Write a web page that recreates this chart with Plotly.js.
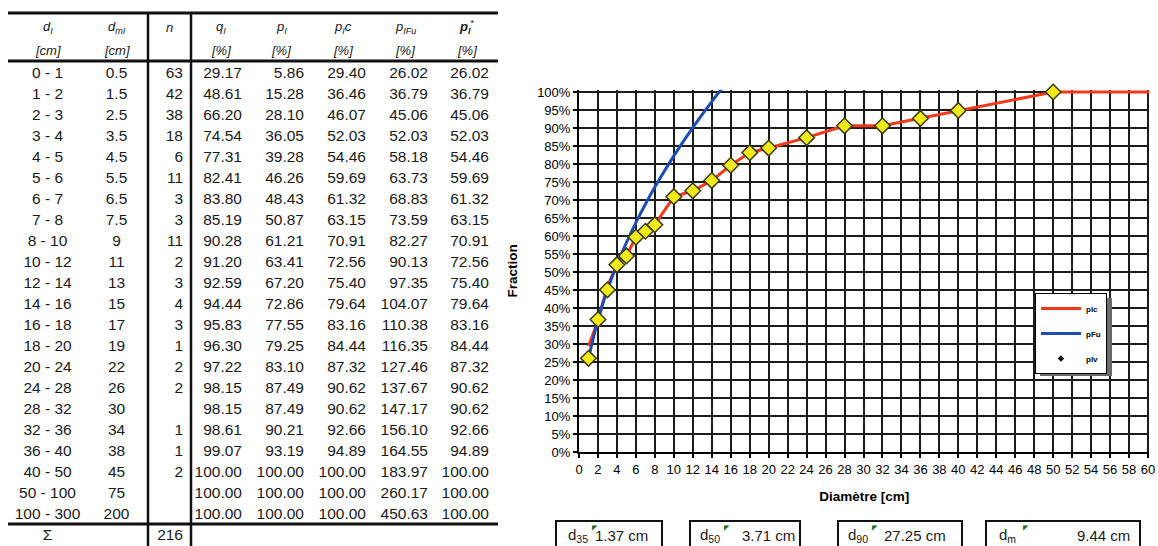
<!DOCTYPE html>
<html><head><meta charset="utf-8">
<script src="https://cdn.plot.ly/plotly-3.0.1.min.js"></script>
<style>html,body{margin:0;padding:0;background:#fff}#chart{width:1158px;height:546px}</style>
</head><body><div id="chart"></div>
<script>
// ---------------- data ----------------
const classes = ['0 - 1','1 - 2','2 - 3','3 - 4','4 - 5','5 - 6','6 - 7','7 - 8','8 - 10','10 - 12','12 - 14','14 - 16','16 - 18','18 - 20','20 - 24','24 - 28','28 - 32','32 - 36','36 - 40','40 - 50','50 - 100','100 - 300'];
const dMid = [0.5,1.5,2.5,3.5,4.5,5.5,6.5,7.5,9,11,13,15,17,19,22,26,30,34,38,45,75,200];
const counts = [63,42,38,18,6,11,3,3,11,2,3,4,3,1,2,2,null,1,1,2,null,null];
const qI = [29.17,48.61,66.20,74.54,77.31,82.41,83.80,85.19,90.28,91.20,92.59,94.44,95.83,96.30,97.22,98.15,98.15,98.61,99.07,100,100,100];
const pI = [5.86,15.28,28.10,36.05,39.28,46.26,48.43,50.87,61.21,63.41,67.20,72.86,77.55,79.25,83.10,87.49,87.49,90.21,93.19,100,100,100];
const pIc = [29.40,36.46,46.07,52.03,54.46,59.69,61.32,63.15,70.91,72.56,75.40,79.64,83.16,84.44,87.32,90.62,90.62,92.66,94.89,100,100,100];
const pIFu = [26.02,36.79,45.06,52.03,58.18,63.73,68.83,73.59,82.27,90.13,97.35,104.07,110.38,116.35,127.46,137.67,147.17,156.10,164.55,183.97,260.17,450.63];
const pIv = [26.02,36.79,45.06,52.03,54.46,59.69,61.32,63.15,70.91,72.56,75.40,79.64,83.16,84.44,87.32,90.62,90.62,92.66,94.89,100,100,100];
const headerSymbols = ['<i>d</i><sub><i>I</i></sub>','<i>d</i><sub><i>mI</i></sub>','<i>n</i>','<i>q</i><sub><i>I</i></sub>','<i>p</i><sub><i>I</i></sub>','<i>p</i><sub><i>I</i></sub><i>c</i>','<i>p</i><sub><i>IFu</i></sub>','<b><i>p</i></b><sub><b><i>I</i></b></sub><sup>*</sup>'];
const headerUnits = ['<i>[cm]</i>','<i>[cm]</i>','','<i>[%]</i>','<i>[%]</i>','<i>[%]</i>','<i>[%]</i>','<i>[%]</i>'];
const sumLabel = 'Σ';
const seriesNames = ['plc','pFu','plv'];
const statLabels = ['d<sub>35</sub>','d<sub>50</sub>','d<sub>90</sub>','d<sub>m</sub>'];
const statValues = ['1.37 cm','3.71 cm','27.25 cm','9.44 cm'];
const xTitle = 'Diamètre [cm]';
const yTitle = 'Fraction';

// ---------------- helpers ----------------
const W = 1158, H = 546;
const px = v => v / W;
const py = v => 1 - v / H;
const f2 = v => (v == null ? '' : v.toFixed(2));
const nb = s => s.replace(/ /g, '\u00a0');
const upper = classes.map(c => parseFloat(c.split('-')[1]));
const total = counts.reduce((a, b) => a + (b || 0), 0);
const FONT = 'Arial, "Liberation Sans", sans-serif';
const TXT = '#1a1a1a';

// plot box (pixels)
const X0 = 579, X60 = 1148, Y0 = 452, Y100 = 92;
const xmax = 60.15, ymax = 1.006;
const xPix = (X60 - X0) / 60, yPix = (Y0 - Y100) / 1;
const xDomR = X0 + xmax * xPix, yDomT = Y0 - ymax * yPix;

// ---------------- table ----------------
const colW = [75,63,43,59,62,62,62,61];
const TL = 10, TT = 13, HR = 24, RH = 21, TSHIFT = 2.6;
const colLeft = colW.map((w, i) => TL + colW.slice(0, i).reduce((a, b) => a + b, 0));
const colCenter = colLeft.map((l, i) => l + colW[i] / 2);
const TR = TL + colW.reduce((a, b) => a + b, 0);
const align = ['center','center','right','right','right','right','right','right'];

const table = {
  type: 'table',
  domain: {x: [px(TL), px(TR)], y: [0, py(TT - TSHIFT)]},
  columnwidth: colW,
  header: {
    values: colW.map(() => ['', '']),
    height: HR,
    fill: {color: 'white'},
    line: {width: 0, color: 'white'}
  },
  cells: {
    values: [classes.concat([sumLabel]).map(nb), dMid.map(String).concat(['']),
             counts.map(v => v == null ? '' : String(v)).concat([String(total)]),
             qI.map(f2).concat(['']), pI.map(f2).concat(['']), pIc.map(f2).concat(['']),
             pIFu.map(f2).concat(['']), pIv.map(f2).concat([''])],
    align: align,
    height: RH,
    font: {family: FONT, size: 15.5, color: TXT},
    fill: {color: 'white'},
    line: {width: 0, color: 'white'}
  }
};

// ---------------- chart traces ----------------
const inRange = upper.map(u => u <= 60);
const red = {
  type: 'scatter', mode: 'lines', x: upper, y: pIc.map(v => v / 100),
  name: seriesNames[0], legendgroup: 'a',
  line: {color: '#f2381a', width: 3}
};
const blue = {
  type: 'scatter', mode: 'lines', x: upper, y: pIFu.map(v => v / 100),
  name: seriesNames[1], legendgroup: 'b',
  line: {color: '#1d4db3', width: 3, shape: 'spline', smoothing: 0.6}
};
const dots = {
  type: 'scatter', mode: 'markers',
  x: upper.filter((u, i) => inRange[i]), y: pIv.filter((v, i) => inRange[i]).map(v => v / 100),
  showlegend: false, cliponaxis: false,
  marker: {symbol: 'diamond', size: 12, color: '#f3ea1c', line: {color: '#3b3a12', width: 1.5}}
};
const dotsLegend = {
  type: 'scatter', mode: 'markers', x: [null], y: [null],
  name: seriesNames[2], legendgroup: 'c',
  marker: {symbol: 'diamond', size: 5, color: '#111'}
};

// ---------------- layout decorations ----------------
const hLine = (y, x0, x1, w) => ({type: 'line', xref: 'paper', yref: 'paper', x0: px(x0), x1: px(x1), y0: py(y), y1: py(y), line: {color: '#111', width: w}});
const vLine = (x, y0, y1, w) => ({type: 'line', xref: 'paper', yref: 'paper', x0: px(x), x1: px(x), y0: py(y0), y1: py(y1), line: {color: '#111', width: w}});

const boxL = [556, 690, 838, 986], boxR = [662, 800, 962, 1140];
const labL = [566, 698, 846, 997], valR = [650, 797, 948, 1132];
const boxTop = 521, boxMid = 535;
const LEG = {x: 1035, y: 293, w: 72, h: 78};

const shapes = [
  hLine(TT, TL - 2, TR + 1, 3),
  hLine(TT + 2 * HR, TL - 2, TR + 1, 3),
  hLine(TT + 2 * HR + classes.length * RH + 1, TL - 2, TR + 1, 3),
  vLine(colLeft[2], TT - 1, H, 2.5),
  vLine(colLeft[3], TT - 1, H, 2.5),
  // legend shadow
  {type: 'rect', xref: 'paper', yref: 'paper', x0: px(LEG.x + 5), x1: px(LEG.x + LEG.w + 5), y0: py(LEG.y + LEG.h + 5), y1: py(LEG.y + 5), fillcolor: '#6a6a6a', line: {width: 0}, layer: 'above'}
];
boxL.forEach((l, i) => shapes.push({type: 'rect', xref: 'paper', yref: 'paper', x0: px(l), x1: px(boxR[i]), y0: py(560), y1: py(boxTop), line: {color: '#111', width: 2}, fillcolor: 'rgba(0,0,0,0)'}));

const annotations = [];
headerSymbols.forEach((s, i) => {
  annotations.push({xref: 'paper', yref: 'paper', x: px(colCenter[i]), y: py(27), xanchor: 'center', yanchor: 'middle', text: s, showarrow: false, font: {family: FONT, size: 13, color: TXT}});
  if (headerUnits[i]) annotations.push({xref: 'paper', yref: 'paper', x: px(colCenter[i]), y: py(50), xanchor: 'center', yanchor: 'middle', text: headerUnits[i], showarrow: false, font: {family: FONT, size: 13, color: TXT}});
});
statLabels.forEach((s, i) => {
  annotations.push({xref: 'paper', yref: 'paper', x: px(labL[i]), y: py(boxMid), xanchor: 'left', yanchor: 'middle', text: s, showarrow: false, font: {family: FONT, size: 15, color: TXT}});
  annotations.push({xref: 'paper', yref: 'paper', x: px(valR[i]), y: py(boxMid), xanchor: 'right', yanchor: 'middle', text: statValues[i], showarrow: false, font: {family: FONT, size: 15, color: TXT}});
  annotations.push({xref: 'paper', yref: 'paper', x: px(labL[i] + 24), y: py(boxTop + 1), xanchor: 'left', yanchor: 'top', text: '◤', showarrow: false, font: {family: 'DejaVu Sans', size: 7, color: '#1e6b1e'}});
});

const layout = {
  width: W, height: H,
  margin: {l: 0, r: 0, t: 0, b: 0},
  paper_bgcolor: 'white', plot_bgcolor: 'white',
  font: {family: FONT, color: '#000'},
  showlegend: true,
  xaxis: {
    domain: [px(X0), px(xDomR)], range: [0, xmax], dtick: 2, tick0: 0,
    showgrid: true, gridcolor: '#1c1c1c', gridwidth: 2, zeroline: false,
    showline: true, linecolor: '#000', linewidth: 2,
    ticks: 'outside', ticklen: 4, tickwidth: 2, tickcolor: '#000',
    tickfont: {family: FONT, size: 13, color: '#000'},
    automargin: false,
    title: {text: '<b>' + xTitle + '</b>', font: {family: FONT, size: 13.5, color: '#000'}, standoff: 16}
  },
  yaxis: {
    domain: [py(Y0), py(yDomT)], range: [0, ymax], dtick: 0.05, tick0: 0, tickformat: '.0%',
    showgrid: true, gridcolor: '#1c1c1c', gridwidth: 2, zeroline: false,
    showline: true, linecolor: '#000', linewidth: 2,
    ticks: 'outside', ticklen: 4, tickwidth: 2, tickcolor: '#000',
    tickfont: {family: FONT, size: 13, color: '#000'},
    automargin: false,
    title: {text: '<b>' + yTitle + '</b>', font: {family: FONT, size: 13.5, color: '#000'}, standoff: 16}
  },
  legend: {
    x: px(LEG.x), y: py(LEG.y), xanchor: 'left', yanchor: 'top',
    bgcolor: 'white', bordercolor: '#000', borderwidth: 1,
    font: {family: FONT, size: 8, color: '#000', weight: 'bold'},
    traceorder: 'grouped', tracegroupgap: 6, itemwidth: 40
  },
  shapes: shapes,
  annotations: annotations
};

Plotly.newPlot('chart', [table, red, blue, dots, dotsLegend], layout, {staticPlot: true, displayModeBar: false});
</script>
</body></html>
